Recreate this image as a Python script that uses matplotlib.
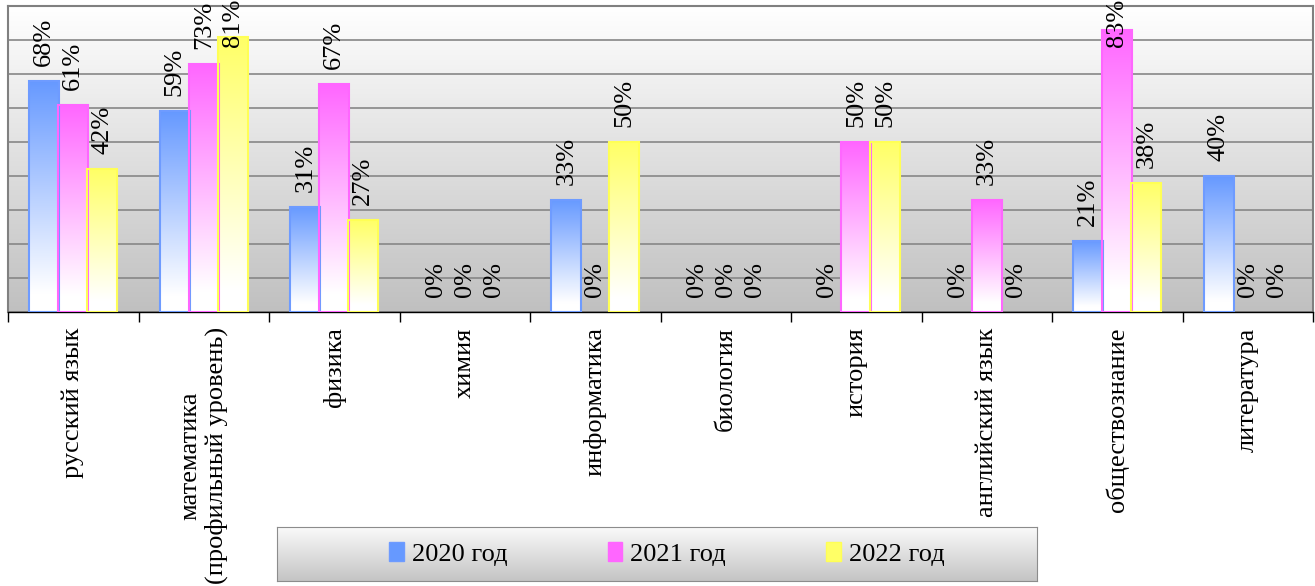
import numpy as np
import matplotlib.pyplot as plt
from matplotlib.colors import LinearSegmentedColormap
from matplotlib.patches import Patch

subjects = ["русский язык", "математика\n(профильный уровень)", "физика", "химия",
            "информатика", "биология", "история", "английский язык",
            "обществознание", "литература"]
years = ["2020 год", "2021 год", "2022 год"]
y2020 = [68, 59, 31, 0, 33, 0, 0, 0, 21, 40]
y2021 = [61, 73, 67, 0, 0, 0, 50, 33, 83, 0]
y2022 = [42, 81, 27, 0, 50, 0, 50, 0, 38, 0]

colors = ["#6699ff", "#ff66ff", "#ffff66"]
edges = ["#6e9bff", "#ff66ff", "#ffff55"]

plt.rcParams['font.family'] = ['Liberation Serif', 'DejaVu Serif']

fig = plt.figure(figsize=(13.15, 5.86), dpi=100)
ax = fig.add_axes([8 / 1315, 274 / 586, 1305 / 1315, 306 / 586])

x = np.arange(len(subjects))
ymax = 90

# plot area background: white at top fading to grey
bg = LinearSegmentedColormap.from_list("bg", ["#c0c0c0", "#ffffff"])
ax.imshow(np.linspace(0, 1, 256).reshape(-1, 1), cmap=bg, origin="lower",
          extent=[-0.5, len(subjects) - 0.5, 0, ymax], aspect="auto", zorder=0)

ax.set_yticks(np.arange(0, ymax + 1, 10))
ax.yaxis.grid(True, color="#878787", lw=1.2)
ax.set_axisbelow(True)
ax.tick_params(axis="y", length=0, labelleft=False)

step = 0.222
width = 0.232
grad = np.linspace(0, 1, 256).reshape(-1, 1)
for i, (vals, c, ec) in enumerate(zip([y2020, y2021, y2022], colors, edges)):
    pos = x + (i - 1) * step
    cmap = LinearSegmentedColormap.from_list(
        "g%d" % i, [(0, "#ffffff"), (0.08, "#ffffff"), (1, c)], N=256)
    for p, v in zip(pos, vals):
        if v > 0:
            ax.bar(p, v, width, facecolor="none", edgecolor=ec, lw=1.5, zorder=3)
            ax.imshow(grad, cmap=cmap, origin="lower", aspect="auto", zorder=2,
                      extent=[p - width / 2, p + width / 2, 0, v])
        # labels that would leave the plot area are pushed down, as in the source
        ax.text(p, min(v + 4.4, 78), f"{v}%",
                rotation=90, ha="center", va="bottom", fontsize=19, zorder=5)

ax.set_xlim(-0.5, len(subjects) - 0.5)
ax.set_ylim(0, ymax)

ax.set_xticks(x)
ax.set_xticklabels(subjects, rotation=90, fontsize=19, ha="center", va="top",
                   multialignment="center")
ax.tick_params(axis="x", length=0, pad=11)
ax.set_xticks(np.arange(-0.5, len(subjects)), minor=True)
ax.tick_params(axis="x", which="minor", length=7, width=1, color="black")

for s in ["left", "top", "right"]:
    ax.spines[s].set_color("#808080")
    ax.spines[s].set_linewidth(1.5)
ax.spines["bottom"].set_color("black")
ax.spines["bottom"].set_linewidth(1)

# legend box with grey gradient
lax = fig.add_axes([277 / 1315, 5 / 586, 760 / 1315, 54 / 586])
lbg = LinearSegmentedColormap.from_list("lbg", ["#c4c4c4", "#fafafa"])
lax.imshow(np.linspace(0, 1, 64).reshape(-1, 1), cmap=lbg, origin="lower",
           extent=[0, 1, 0, 1], aspect="auto")
lax.set_xticks([])
lax.set_yticks([])
for s in lax.spines.values():
    s.set_color("#8c8c8c")

handles = [Patch(facecolor=c, edgecolor=ec) for c, ec in zip(colors, edges)]
lax.legend(handles, years, loc="center", bbox_to_anchor=(0.513, 0.5), ncol=3,
           frameon=False, fontsize=19, handlelength=0.55, handleheight=0.75,
           handletextpad=0.3, columnspacing=3.8)

fig.savefig("out.png", dpi=100)
